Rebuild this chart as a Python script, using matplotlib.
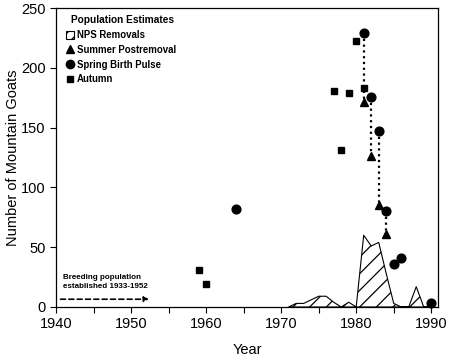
import matplotlib
matplotlib.use("Agg")
import matplotlib.pyplot as plt
from matplotlib.patches import Patch
from matplotlib.lines import Line2D
import numpy as np

plt.rcParams['font.family'] = ['Liberation Sans', 'DejaVu Sans']

# Data
removal_years = [1971, 1972, 1973, 1974, 1975, 1976, 1977, 1978, 1979, 1980,
                 1981, 1982, 1983, 1984, 1985, 1986, 1987, 1988, 1989, 1990]
removal_vals = [0, 3, 3, 6, 9, 9, 4, 0, 4, 0,
                60, 51, 54, 28, 3, 0, 0, 17, 0, 0]

summer_years = [1981, 1982, 1983, 1984]
summer_vals = [171, 126, 85, 61]

spring_years = [1964, 1981, 1982, 1983, 1984, 1985, 1986, 1990]
spring_vals = [82, 229, 176, 147, 80, 36, 41, 3]

autumn_years = [1959, 1960, 1977, 1978, 1979, 1980, 1981]
autumn_vals = [31, 19, 181, 131, 179, 222, 183]

x_ticks = [1940, 1950, 1960, 1970, 1980, 1990]
y_ticks = [0, 50, 100, 150, 200, 250]

fig = plt.figure(figsize=(4.5, 3.57), dpi=100)
ax = fig.add_axes([56/450, 1-307/357, (438-56)/450, (307-8)/357])

plt.rcParams['hatch.linewidth'] = 0.9
ax.fill_between(removal_years, removal_vals, 0, facecolor='white', edgecolor='black',
                hatch='//', linewidth=0.8, zorder=2)

# dotted connectors spring -> summer
sp = dict(zip(spring_years, spring_vals))
for yr, v in zip(summer_years, summer_vals):
    if yr in sp:
        ax.plot([yr, yr], [sp[yr], v], color='black', linestyle=(0, (1, 1.6)),
                linewidth=1.6, zorder=3)

ax.plot(autumn_years, autumn_vals, 's', color='black', markersize=3.8, zorder=4)
ax.plot(summer_years, summer_vals, '^', color='black', markersize=5.8, zorder=4)
ax.plot(spring_years, spring_vals, 'o', color='black', markersize=6.3, zorder=4, clip_on=False)

ax.set_xlim(1940, 1990.9)
ax.set_ylim(0, 250)
ax.set_xticks(x_ticks)
ax.set_xticks(np.arange(1945, 1991, 10), minor=True)
ax.set_yticks(y_ticks)
ax.tick_params(axis='both', which='both', direction='out', length=4, width=0.8,
               labelsize=10.5, top=False, right=False)
for s in ax.spines.values():
    s.set_linewidth(0.9)

ax.set_xlabel('Year', fontsize=10.5, labelpad=8)
ax.set_ylabel('Number of Mountain Goats', fontsize=10.5, labelpad=1)

# annotation
ax.annotate('', xy=(1952.4, 6.5), xytext=(1940.6, 6.5),
            arrowprops=dict(arrowstyle='-|>', linestyle=(0, (3, 2)), color='black',
                            lw=1.2, mutation_scale=7, shrinkA=0, shrinkB=0))
ax.text(1940.9, 14.5, 'Breeding population\nestablished 1933-1952', fontsize=5.8,
        ha='left', va='bottom', linespacing=1.35, fontweight='bold')

handles = [Patch(facecolor='white', edgecolor='black', hatch='///', linewidth=0.8),
           Line2D([], [], marker='^', color='black', linestyle='none', markersize=5.5),
           Line2D([], [], marker='o', color='black', linestyle='none', markersize=6),
           Line2D([], [], marker='s', color='black', linestyle='none', markersize=3.8)]
labels = ['NPS Removals', 'Summer Postremoval', 'Spring Birth Pulse', 'Autumn']
leg = ax.legend(handles, labels, loc='upper left', bbox_to_anchor=(0.01, 0.995),
                frameon=False, title='Population Estimates', fontsize=6.9,
                title_fontproperties={'size': 7.3, 'weight': 'bold'},
                handlelength=0.9, handleheight=0.9, handletextpad=0.3,
                labelspacing=0.5, borderaxespad=0.2)
leg._legend_box.align = 'left'
leg.get_title().set_position((5, 0))
for t in leg.get_texts():
    t.set_fontweight('bold')

fig.savefig('out.png', dpi=100)
